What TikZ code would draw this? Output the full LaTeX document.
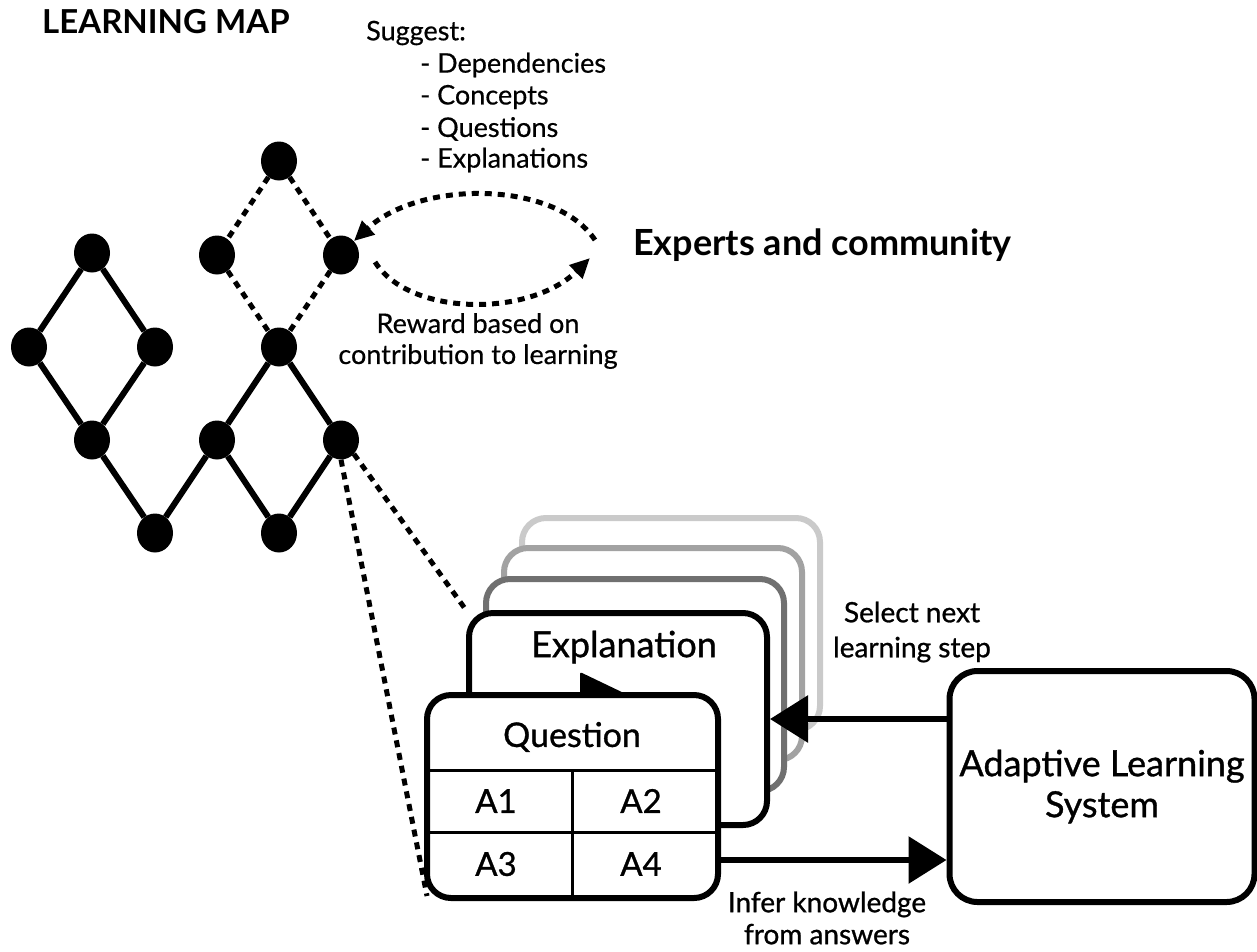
\documentclass[tikz,border=0pt]{standalone}
\usepackage{fontspec}
\setmainfont{Lato}
\newfontfamily\medfont{Lato}[FakeBold=0.9]
\newfontfamily\regfont{Lato}[FakeBold=0.5]
\usetikzlibrary{arrows.meta,shapes.geometric,calc}
\definecolor{cardA}{HTML}{CACACA}
\definecolor{cardB}{HTML}{A2A2A2}
\definecolor{cardC}{HTML}{707070}
\begin{document}
\begin{tikzpicture}[x=1pt,y=-1pt,
  dot/.style={ellipse,fill=black,inner sep=0pt,minimum width=36pt,minimum height=39pt},
  edge/.style={line width=6pt},
  dedge/.style={line width=5pt,dash pattern=on 7pt off 6pt},
  card/.style={draw,rounded corners=24pt,line width=6pt,fill=white,inner sep=0pt,minimum width=298pt,minimum height=212pt},
  inner/.style={line width=3pt},
  body/.style={font=\regfont\fontsize{27}{32}\selectfont,inner sep=0pt},
  lbl/.style={font=\medfont\fontsize{28}{35}\selectfont,inner sep=0pt,align=center},
  midtxt/.style={font=\medfont\fontsize{36}{40}\selectfont,inner sep=0pt},
  qtxt/.style={font=\medfont\fontsize{34}{40}\selectfont,inner sep=0pt},
  bigtip/.style={-{Triangle[length=38pt,width=46pt]}},
  smalltip/.style={-{Triangle[length=20pt,width=18pt]}}
]
\useasboundingbox (0,0) rectangle (1257,951);

% title and texts
\node[font=\fontsize{33}{36}\selectfont\bfseries,anchor=west,inner sep=0pt] (title) at (42,22) {LEARNING MAP};
\node[body,anchor=west] (sg) at (366,33) {Suggest:};
\node[body,anchor=west] (s1) at (420,65) {- Dependencies};
\node[body,anchor=west] (s2) at (420,97) {- Concepts};
\node[body,anchor=west] (s3) at (420,129) {- Questions};
\node[body,anchor=west] (s4) at (420,160) {- Explanations};
\node[font=\fontsize{36}{40}\selectfont\bfseries,anchor=west,inner sep=0pt] (exp) at (633,245) {Experts and community};
\node[body,align=center,font=\regfont\fontsize{27}{31}\selectfont] (rw) at (478,341) {Reward based on\\contribution to learning};

% graph nodes
\node[dot] (t0) at (279,161) {};
\node[dot] (u1) at (217,255) {};
\node[dot] (u2) at (341,255) {};
\node[dot] (a)  at (92,253) {};
\node[dot] (b1) at (29,347) {};
\node[dot] (b2) at (155,347) {};
\node[dot] (b3) at (279,347) {};
\node[dot] (c1) at (92,440) {};
\node[dot] (c2) at (217,440) {};
\node[dot] (c3) at (341,440) {};
\node[dot] (e1) at (155,533) {};
\node[dot] (e2) at (279,533) {};

\draw[edge] (a) -- (b1);
\draw[edge] (a) -- (b2);
\draw[edge] (b1) -- (c1);
\draw[edge] (b2) -- (c1);
\draw[edge] (c1) -- (e1);
\draw[edge] (e1) -- (c2);
\draw[edge] (c2) -- (b3);
\draw[edge] (b3) -- (c3);
\draw[edge] (c2) -- (e2);
\draw[edge] (c3) -- (e2);
\draw[dedge] (t0) -- (u1);
\draw[dedge] (t0) -- (u2);
\draw[dedge] (u1) -- (b3);
\draw[dedge] (u2) -- (b3);

% curved arrows with experts
\coordinate (ea) at (595,240);
\coordinate (rs) at (375,262);
\coordinate (eb) at (590,258);
\draw[dedge,smalltip] (ea) .. controls (555,180) and (420,180) .. (u2.north east);
\draw[dedge,smalltip] (rs) .. controls (410,317) and (530,317) .. (eb);

% cards
\node[card,draw=cardA] (k3) at (671,624) {};
\node[card,draw=cardB] (k2) at (653,654) {};
\node[card,draw=cardC] (k1) at (635,685) {};
\node[card] (k0) at (618,719) {};
\node[midtxt] (explab) at (624,647) {Explanation};

% dashed zoom lines
\draw[dedge] (c3.south east) -- (k0.north west);
\coordinate (qsw) at (427,896);
\draw[dedge] (c3.south) -- (qsw);

% small arrowhead into explanation
\fill[rounded corners=2pt] (580,672) -- (628,695) -- (580,718) -- cycle;

% question card
\node[card,minimum width=291pt,minimum height=203pt] (q) at (572.5,796.5) {};
\coordinate (r1) at (0,770);
\coordinate (r2) at (0,832);
\draw[inner] (q.west |- r1) -- (q.east |- r1);
\draw[inner] (q.west |- r2) -- (q.east |- r2);
\draw[inner] (q.south |- r1) -- (q.south);
\node[qtxt] (qt) at (572,737) {Question};
\node[qtxt,font=\medfont\fontsize{33}{40}\selectfont] (a1) at (496,801) {A1};
\node[qtxt,font=\medfont\fontsize{33}{40}\selectfont] (a2) at (641,801) {A2};
\node[qtxt,font=\medfont\fontsize{33}{40}\selectfont] (a3) at (496,864) {A3};
\node[qtxt,font=\medfont\fontsize{33}{40}\selectfont] (a4) at (641,864) {A4};

% adaptive learning system
\node[card,minimum width=305pt,minimum height=231pt,rounded corners=28pt,align=center,font=\medfont\fontsize{36}{41}\selectfont] (als) at (1102,786.5) {Adaptive Learning\\System};

\draw[edge,bigtip] (als.west |- k0.east) -- (k0.east);
\coordinate (qa) at (0,860);
\draw[edge,bigtip] (q.east |- qa) -- (als.west |- qa);

\node[lbl] (sel) at (912,632) {Select next\\learning step};
\node[lbl,font=\medfont\fontsize{28}{32}\selectfont] (inf) at (827,918) {Infer knowledge\\from answers};
\end{tikzpicture}
\end{document}
